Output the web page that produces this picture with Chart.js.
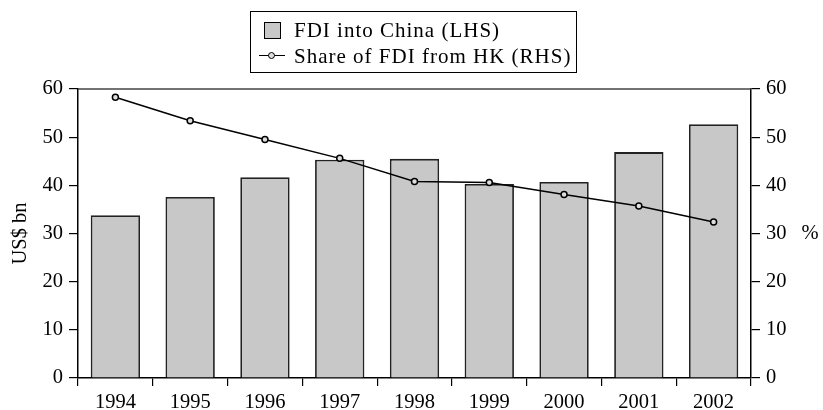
<!DOCTYPE html>
<html>
<head>
<meta charset="utf-8">
<script src="https://cdn.jsdelivr.net/npm/chart.js@4/dist/chart.umd.min.js"></script>
<style>
  html, body { margin: 0; padding: 0; background: #fff; }
  #wrap { position: relative; width: 823px; height: 410px; }
  #legend {
    position: absolute; left: 250px; top: 11px; width: 325px; height: 60px;
    border: 1.5px solid #000; font-family: "Liberation Serif", "Times New Roman", serif;
    font-size: 21px; letter-spacing: 1px; color: #000; box-sizing: content-box;
  }
  .row { position: absolute; left: 0; height: 24px; line-height: 24px; white-space: nowrap; }
  .sw { position: absolute; }
  .txt { position: absolute; left: 43px; top: 0; }
</style>
</head>
<body>
<div id="wrap">
  <canvas id="chart"></canvas>
  <div id="legend"></div>
</div>
<script>
(function(){
    "use strict";
    var years = ["1994", "1995", "1996", "1997", "1998", "1999", "2000", "2001", "2002"];
    var fdiChina = [33.8, 37.6, 41.7, 45.3, 45.5, 40.3, 40.7, 46.9, 52.7];
    var hkShare = [58.3, 53.4, 49.5, 45.6, 40.8, 40.6, 38.1, 35.7, 32.4];
    var seriesNames = ["FDI into China (LHS)", "Share of FDI from HK (RHS)"];

    var serif = { family: '"Liberation Serif", "Times New Roman", serif', size: 20.5 };

    // top frame line + horizontal "%" title on the right axis
    var extras = {
        id: 'extras',
        afterDraw: function(chart) {
            var ctx = chart.ctx, a = chart.chartArea;
            ctx.save();
            ctx.strokeStyle = '#444';
            ctx.lineWidth = 1.5;
            ctx.beginPath();
            ctx.moveTo(a.left, a.top);
            ctx.lineTo(a.right, a.top);
            ctx.stroke();
            ctx.fillStyle = '#000';
            ctx.font = serif.size + 'px ' + serif.family;
            ctx.textAlign = 'center';
            ctx.textBaseline = 'middle';
            ctx.fillText('%', 810, (a.top + a.bottom) / 2);
            ctx.restore();
        }
    };

    new Chart(document.querySelector("#chart"), {
        data: {
            labels: years,
            datasets: [
                {
                    type: 'line',
                    label: seriesNames[1],
                    data: hkShare,
                    yAxisID: 'y1',
                    borderColor: '#000',
                    borderWidth: 1.5,
                    pointRadius: 3,
                    pointBackgroundColor: '#ddd',
                    pointBorderColor: '#000',
                    pointBorderWidth: 1.5,
                    order: 0
                },
                {
                    type: 'bar',
                    label: seriesNames[0],
                    data: fdiChina,
                    yAxisID: 'y',
                    backgroundColor: '#c8c8c8',
                    borderColor: '#222',
                    borderWidth: 1.8,
                    categoryPercentage: 1,
                    barPercentage: 0.66,
                    order: 1
                }
            ]
        },
        options: {
            responsive: true,
            maintainAspectRatio: false,
            animation: false,
            layout: { padding: { top: 89, left: 0, right: 0, bottom: 0 } },
            plugins: { legend: { display: false }, tooltip: { enabled: false } },
            scales: {
                x: {
                    offset: true,
                    grid: { offset: true, drawOnChartArea: false, tickLength: 8, color: '#000', lineWidth: 1.2 },
                    border: { color: '#000', width: 1.5 },
                    ticks: { font: serif, color: '#000', padding: 4, maxRotation: 0 },
                    afterFit: function(s) { s.height = 32; }
                },
                y: {
                    position: 'left',
                    min: 0, max: 60,
                    ticks: { stepSize: 10, font: serif, color: '#000', padding: 6 },
                    grid: { drawOnChartArea: false, tickLength: 9, color: '#000', lineWidth: 1.2 },
                    border: { color: '#000', width: 1.5 },
                    title: { display: true, text: 'US$ bn', font: serif, color: '#000', padding: { top: 8, bottom: 0 } },
                    afterFit: function(s) { s.width = 78; }
                },
                y1: {
                    position: 'right',
                    min: 0, max: 60,
                    ticks: { stepSize: 10, font: serif, color: '#000', padding: 6 },
                    grid: { drawOnChartArea: false, tickLength: 9, color: '#000', lineWidth: 1.2 },
                    border: { color: '#000', width: 1.5 },
                    afterFit: function(s) { s.width = 72; }
                }
            }
        },
        plugins: [extras]
    });

    // boxed legend, stacked like the original
    var legend = document.querySelector("#legend");
    legend.innerHTML =
        '<div class="row" style="top:6px;width:100%">' +
          '<span class="sw" style="left:13px;top:4px;width:15px;height:15px;background:#c8c8c8;border:1px solid #000"></span>' +
          '<span class="txt">' + seriesNames[0] + '</span></div>' +
        '<div class="row" style="top:32px;width:100%">' +
          '<span class="sw" style="left:8px;top:11px;width:26px;height:0;border-top:1.5px solid #000"></span>' +
          '<span class="sw" style="left:17px;top:8px;width:5px;height:5px;border-radius:50%;background:#ddd;border:1.2px solid #000"></span>' +
          '<span class="txt">' + seriesNames[1] + '</span></div>';
})();
</script>
</body>
</html>
